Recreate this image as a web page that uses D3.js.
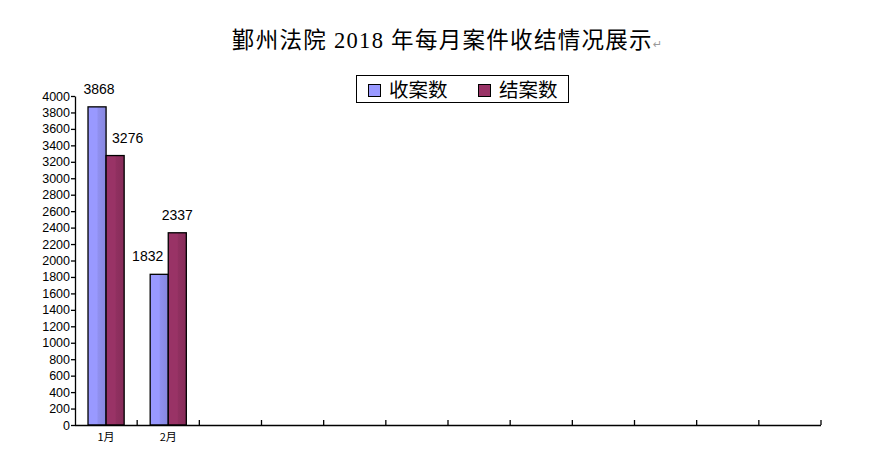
<!DOCTYPE html>
<html>
<head>
<meta charset="utf-8">
<script src="https://cdn.jsdelivr.net/npm/d3@7"></script>
<style>
  body { margin: 0; background: #fff; }
  svg { display: block; }
</style>
</head>
<body>
<svg id="chart"></svg>
<script>
// data
const months = ["1月", "2月", "3月", "4月", "5月", "6月", "7月", "8月", "9月", "10月", "11月", "12月"];
const shownLabels = ["1月", "2月"];
const series = ["收案数", "结案数"];
const received = [3868, 1832];
const closed = [3276, 2337];
const yTicks = d3.range(0, 4001, 200);

const width = 879, height = 467;
const marginLeft = 75, marginRight = 58, marginTop = 96, marginBottom = 42;
const colors = ["#9999ff", "#993366"];
const darker = ["#8787de", "#862c59"];

const svg = d3.select("#chart")
  .attr("width", width)
  .attr("height", height)
  .attr("viewBox", [0, 0, width, height]);

const defs = svg.append("defs");
colors.forEach((c, i) => {
  const g = defs.append("linearGradient")
    .attr("id", "grad" + i)
    .attr("x1", "0").attr("x2", "1").attr("y1", "0").attr("y2", "0");
  g.append("stop").attr("offset", "0").attr("stop-color", c);
  g.append("stop").attr("offset", "0.5").attr("stop-color", c);
  g.append("stop").attr("offset", "0.55").attr("stop-color", d3.interpolateRgb(c, darker[i])(0.5));
  g.append("stop").attr("offset", "1").attr("stop-color", darker[i]);
});

const x0 = d3.scaleBand(months, [marginLeft, width - marginRight]).padding(0);
const x1 = d3.scaleBand(series, [0, x0.bandwidth()]).paddingInner(0).paddingOuter(0.72);
const y = d3.scaleLinear([0, 4000], [height - marginBottom, marginTop]);

// title
const title = svg.append("text")
  .attr("x", 447)
  .attr("y", 48)
  .attr("text-anchor", "middle")
  .attr("font-family", "'Liberation Serif', 'Noto Sans CJK SC', serif")
  .attr("font-size", 22.5)
  .attr("letter-spacing", 1.3)
  .attr("fill", "#000")
  .style("white-space", "pre")
  .text("鄞州法院 2018 年每月案件收结情况展示");
title.append("tspan")
  .attr("font-size", 11)
  .attr("letter-spacing", 0)
  .attr("fill", "#999")
  .attr("font-family", "'DejaVu Sans', sans-serif")
  .text("↵");

// legend
const legend = svg.append("g");
legend.append("rect")
  .attr("x", 356.5).attr("y", 75.5)
  .attr("width", 212).attr("height", 27)
  .attr("fill", "#fff").attr("stroke", "#000").attr("stroke-width", 1);
const lx = [368, 478];
series.forEach((s, i) => {
  legend.append("rect")
    .attr("x", lx[i] + 0.5).attr("y", 84.5)
    .attr("width", 12).attr("height", 12)
    .attr("fill", colors[i]).attr("stroke", "#000");
  legend.append("text")
    .attr("x", lx[i] + 21).attr("y", 97)
    .attr("font-family", "'Noto Sans CJK SC', sans-serif")
    .attr("font-size", 19.5)
    .text(s);
});

// y axis
svg.append("g")
  .attr("transform", `translate(${marginLeft},0)`)
  .call(d3.axisLeft(y).tickValues(yTicks).tickFormat(d3.format("d")).tickSize(4).tickSizeOuter(0).tickPadding(1))
  .call(g => g.select(".domain").attr("stroke-width", 1.3))
  .call(g => g.selectAll(".tick line").attr("stroke-width", 1.3))
  .call(g => g.selectAll(".tick text")
    .attr("font-family", "'Liberation Sans', Arial, sans-serif")
    .attr("font-size", 12.5)
    .attr("fill", "#000"));

// bars
const rows = shownLabels.map((m, i) => ({ month: m, values: [received[i], closed[i]] }));

const groups = svg.append("g")
  .selectAll("g")
  .data(rows)
  .join("g")
  .attr("transform", d => `translate(${x0(d.month)},0)`);

groups.selectAll("rect")
  .data(d => d.values.map((v, i) => ({ key: series[i], value: v, i })))
  .join("rect")
  .attr("x", d => x1(d.key))
  .attr("y", d => y(d.value))
  .attr("width", x1.bandwidth())
  .attr("height", d => y(0) - y(d.value))
  .attr("fill", d => `url(#grad${d.i})`)
  .attr("stroke", "#000")
  .attr("stroke-width", 1.3);

// labels: centred, but pushed away from a taller neighbour bar
groups.selectAll("text")
  .data(d => d.values.map((v, i) => ({ key: series[i], value: v, i, other: d.values[1 - i] })))
  .join("text")
  .attr("x", d => {
    const left = x1(d.key), right = left + x1.bandwidth();
    if (d.other > d.value) return d.i === 0 ? right - 5 : left + 6;
    return left + x1.bandwidth() / 2 + (d.i === 0 ? 2 : 0);
  })
  .attr("text-anchor", d => d.other > d.value ? (d.i === 0 ? "end" : "start") : "middle")
  .attr("y", d => y(d.value) - 13)
  .attr("font-family", "'Liberation Sans', Arial, sans-serif")
  .attr("font-size", 14)
  .attr("fill", "#000")
  .text(d => d.value);

// x axis: ticks between months, pointing up
const bounds = months.map(m => x0(m)).concat([width - marginRight]);
const xAxis = svg.append("g");
xAxis.append("line")
  .attr("x1", marginLeft).attr("x2", width - marginRight)
  .attr("y1", y(0) + 0.5).attr("y2", y(0) + 0.5)
  .attr("stroke", "#000").attr("stroke-width", 1.5);
xAxis.selectAll(".bound")
  .data(bounds.slice(1))
  .join("line")
  .attr("x1", d => d).attr("x2", d => d)
  .attr("y1", y(0)).attr("y2", y(0) - 5)
  .attr("stroke", "#000").attr("stroke-width", 1.3);
xAxis.selectAll(".lab")
  .data(shownLabels)
  .join("text")
  .attr("x", d => x0(d) + x0.bandwidth() / 2)
  .attr("y", y(0) + 16)
  .attr("text-anchor", "middle")
  .attr("font-family", "'Noto Sans CJK SC', sans-serif")
  .attr("font-size", 11)
  .text(d => d);
</script>
</body>
</html>
